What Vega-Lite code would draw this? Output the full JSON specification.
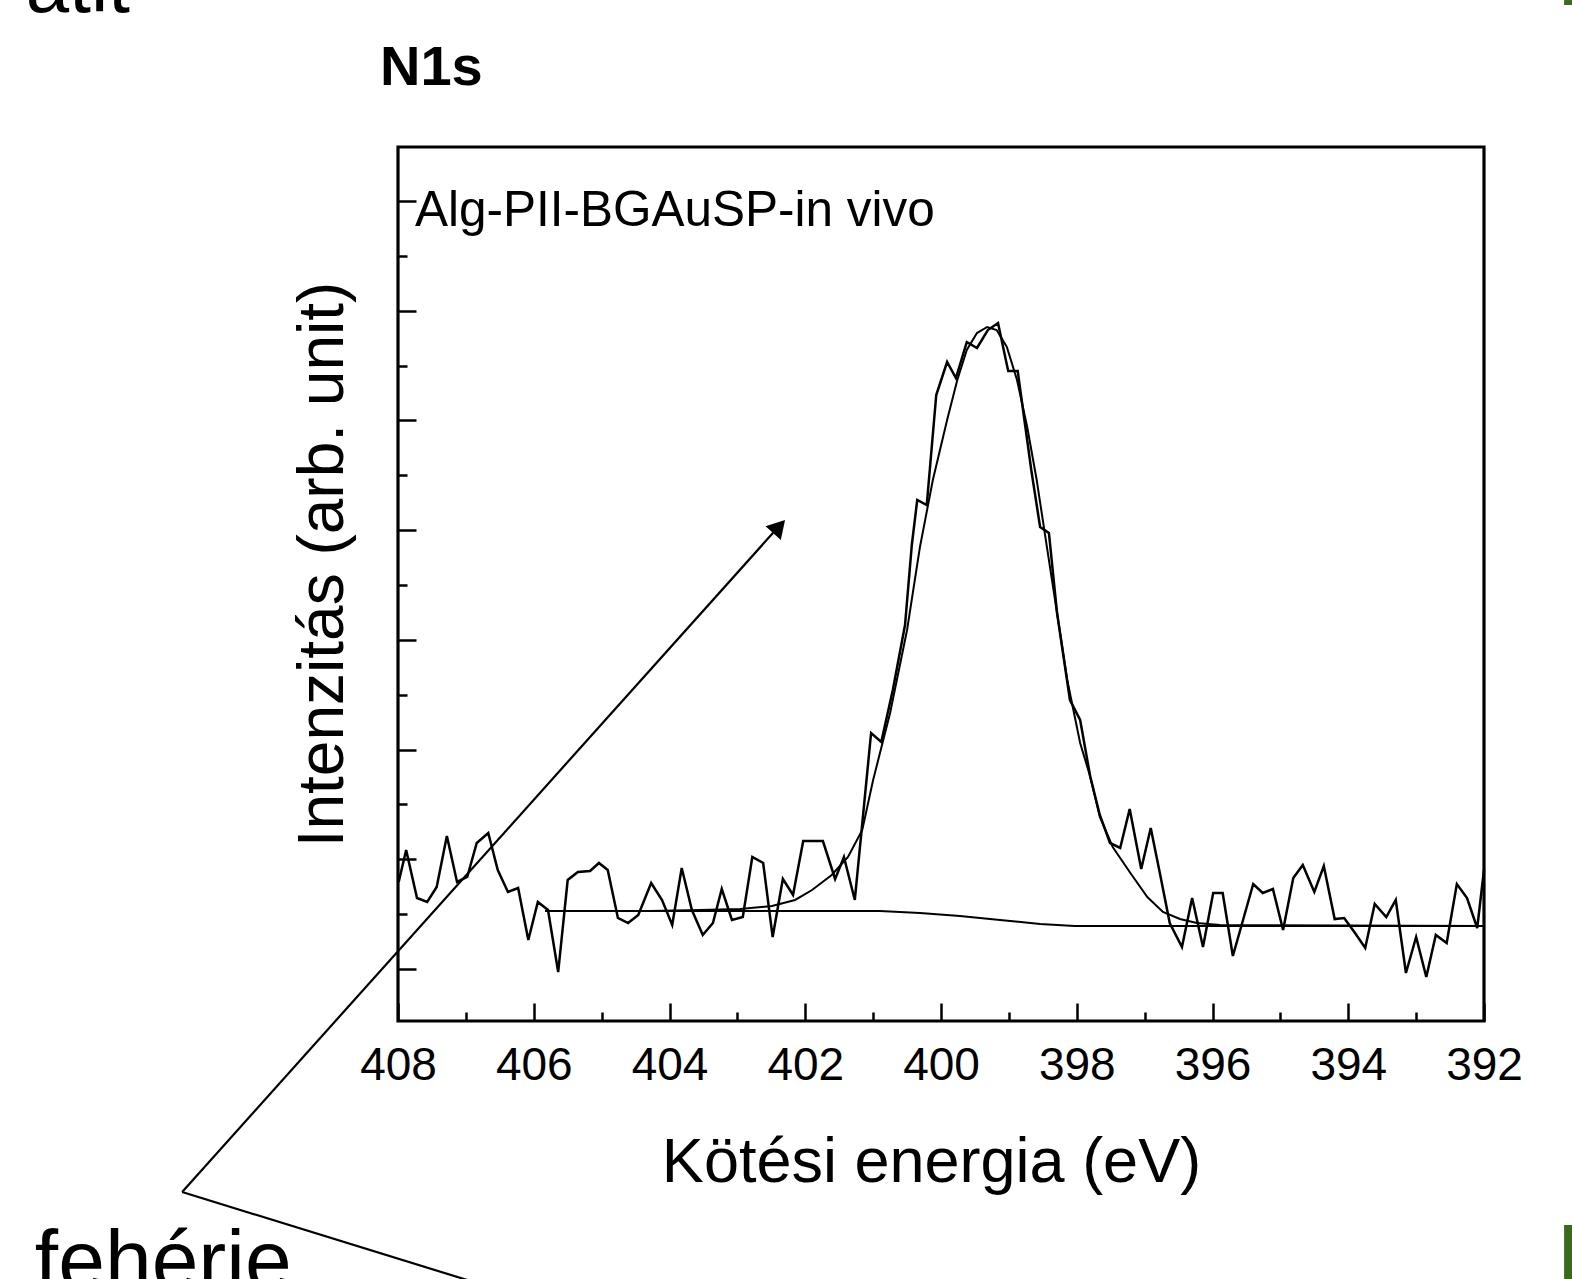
{
  "$schema": "https://vega.github.io/schema/vega-lite/v6.json",
  "width": 1086,
  "height": 874,
  "autosize": {"type": "none"},
  "padding": {"left": 398, "top": 147, "right": 88, "bottom": 258},
  "background": "white",
  "view": {"stroke": "black", "strokeWidth": 3.2},
  "config": {"font": "Liberation Sans"},
  "datasets": {
    "spectrum": [
      {"e":407.99,"i":1.586},{"e":407.88,"i":2.169},{"e":407.72,"i":1.294},{"e":407.57,"i":1.221},{"e":407.43,"i":1.495},{"e":407.28,"i":2.424},{"e":407.13,"i":1.586},{"e":406.98,"i":1.677},{"e":406.84,"i":2.297},{"e":406.67,"i":2.479},{"e":406.53,"i":1.805},{"e":406.38,"i":1.404},{"e":406.23,"i":1.476},{"e":406.08,"i":0.529},{"e":405.94,"i":1.221},{"e":405.79,"i":1.075},{"e":405.64,"i":-0.055},{"e":405.50,"i":1.622},{"e":405.35,"i":1.768},{"e":405.17,"i":1.786},{"e":405.04,"i":1.932},{"e":404.91,"i":1.805},{"e":404.76,"i":0.930},{"e":404.61,"i":0.838},{"e":404.46,"i":0.984},{"e":404.27,"i":1.568},{"e":404.11,"i":1.258},{"e":403.96,"i":0.802},{"e":403.82,"i":1.841},{"e":403.67,"i":1.075},{"e":403.51,"i":0.620},{"e":403.36,"i":0.838},{"e":403.23,"i":1.458},{"e":403.08,"i":0.893},{"e":402.92,"i":0.948},{"e":402.78,"i":2.042},{"e":402.62,"i":1.932},{"e":402.48,"i":0.583},{"e":402.33,"i":1.641},{"e":402.18,"i":1.349},{"e":402.03,"i":2.333},{"e":401.89,"i":2.333},{"e":401.74,"i":2.333},{"e":401.56,"i":1.641},{"e":401.43,"i":2.042},{"e":401.27,"i":1.258},{"e":401.03,"i":4.302},{"e":400.88,"i":4.138},{"e":400.71,"i":5.086},{"e":400.53,"i":6.270},{"e":400.43,"i":7.729},{"e":400.35,"i":8.549},{"e":400.21,"i":8.458},{"e":400.07,"i":10.463},{"e":399.91,"i":11.065},{"e":399.78,"i":10.773},{"e":399.62,"i":11.429},{"e":399.47,"i":11.320},{"e":399.31,"i":11.648},{"e":399.16,"i":11.776},{"e":399.01,"i":10.901},{"e":398.87,"i":10.901},{"e":398.67,"i":9.096},{"e":398.54,"i":8.057},{"e":398.41,"i":7.948},{"e":398.29,"i":6.489},{"e":398.10,"i":4.903},{"e":397.95,"i":4.539},{"e":397.80,"i":3.500},{"e":397.66,"i":2.807},{"e":397.51,"i":2.297},{"e":397.36,"i":2.206},{"e":397.22,"i":2.917},{"e":397.05,"i":1.823},{"e":396.91,"i":2.570},{"e":396.77,"i":1.713},{"e":396.63,"i":0.838},{"e":396.45,"i":0.401},{"e":396.30,"i":1.294},{"e":396.14,"i":0.401},{"e":395.99,"i":1.385},{"e":395.85,"i":1.385},{"e":395.70,"i":0.237},{"e":395.55,"i":0.893},{"e":395.40,"i":1.549},{"e":395.26,"i":1.385},{"e":395.11,"i":1.458},{"e":394.96,"i":0.711},{"e":394.81,"i":1.659},{"e":394.67,"i":1.896},{"e":394.50,"i":1.404},{"e":394.36,"i":1.878},{"e":394.20,"i":0.911},{"e":394.06,"i":0.930},{"e":393.90,"i":0.656},{"e":393.75,"i":0.383},{"e":393.61,"i":1.185},{"e":393.44,"i":0.948},{"e":393.30,"i":1.258},{"e":393.15,"i":-0.073},{"e":393.00,"i":0.583},{"e":392.85,"i":-0.146},{"e":392.71,"i":0.620},{"e":392.55,"i":0.474},{"e":392.40,"i":1.549},{"e":392.25,"i":1.294},{"e":392.10,"i":0.747},{"e":392.00,"i":1.805}
    ],
    "fit": [
      {"e":405.83,"i":1.057},{"e":405.02,"i":1.057},{"e":404.29,"i":1.057},{"e":403.55,"i":1.075},{"e":402.96,"i":1.094},{"e":402.49,"i":1.148},{"e":402.15,"i":1.258},{"e":401.90,"i":1.440},{"e":401.61,"i":1.714},{"e":401.37,"i":2.042},{"e":401.16,"i":2.534},{"e":401.00,"i":3.445},{"e":400.75,"i":4.667},{"e":400.50,"i":6.179},{"e":400.31,"i":7.693},{"e":400.12,"i":8.914},{"e":399.91,"i":10.008},{"e":399.76,"i":10.737},{"e":399.62,"i":11.284},{"e":399.47,"i":11.593},{"e":399.32,"i":11.703},{"e":399.18,"i":11.648},{"e":399.03,"i":11.338},{"e":398.88,"i":10.737},{"e":398.73,"i":9.880},{"e":398.59,"i":8.914},{"e":398.44,"i":7.693},{"e":398.29,"i":6.489},{"e":398.14,"i":5.268},{"e":397.95,"i":4.120},{"e":397.80,"i":3.500},{"e":397.66,"i":2.771},{"e":397.47,"i":2.224},{"e":397.22,"i":1.768},{"e":396.96,"i":1.312},{"e":396.73,"i":1.039},{"e":396.48,"i":0.911},{"e":396.23,"i":0.839},{"e":395.89,"i":0.802},{"e":392.00,"i":0.784}
    ],
    "baseline": [
      {"e":405.83,"i":1.057},{"e":400.90,"i":1.057},{"e":400.31,"i":1.020},{"e":399.72,"i":0.966},{"e":399.13,"i":0.893},{"e":398.54,"i":0.820},{"e":398.03,"i":0.784},{"e":392.00,"i":0.784}
    ],
    "pointer": [
      {"seg":"arrow","e":411.18,"i":-4.065},{"seg":"arrow","e":402.38,"i":8.08},
      {"seg":"tail","e":411.18,"i":-4.065},{"seg":"tail","e":406.79,"i":-5.742}
    ],
    "arrowhead": [{"e":402.385,"i":8.064}],
    "corner": [
      {"e":390.82,"e2":390.70,"i":17.663,"i2":17.572},
      {"e":390.82,"e2":390.70,"i":-4.666,"i2":-5.651}
    ]
  },
  "encoding": {
    "x": {
      "field": "e", "type": "quantitative",
      "scale": {"domain": [408, 392], "nice": false, "zero": false},
      "axis": {
        "values": [392,393,394,395,396,397,398,399,400,401,402,403,404,405,406,407,408],
        "labelExpr": "datum.value % 2 === 0 ? datum.label : ''",
        "tickSize": {"condition": {"test": "datum.value % 2 === 0", "value": -18}, "value": -9},
        "tickColor": "black", "tickWidth": 2.5,
        "domain": false, "grid": false,
        "labelFont": "Liberation Sans", "labelFontSize": 46, "labelColor": "black",
        "labelPadding": 40, "labelFlush": false, "labelOverlap": false,
        "title": "Kötési energia (eV)",
        "titleFont": "Liberation Sans", "titleFontSize": 63, "titleFontWeight": "normal", "titleColor": "black",
        "titleX": 533, "titleY": 160, "titleBaseline": "alphabetic", "titleAlign": "center"
      }
    },
    "y": {
      "field": "i", "type": "quantitative",
      "scale": {"domain": [-0.948, 14.984], "nice": false, "zero": false},
      "axis": {
        "values": [0,1,2,3,4,5,6,7,8,9,10,11,12,13,14],
        "labels": false,
        "tickSize": {"condition": {"test": "datum.value % 2 === 0", "value": -18}, "value": -9},
        "tickColor": "black", "tickWidth": 2.5,
        "domain": false, "grid": false,
        "title": "Intenzitás (arb. unit)",
        "titleFont": "Liberation Sans", "titleFontSize": 64, "titleFontWeight": "normal", "titleColor": "black",
        "titleX": -56, "titleY": 417, "titleBaseline": "alphabetic", "titleAlign": "center", "titleAngle": 270
      }
    }
  },
  "layer": [
    {"data": {"name": "baseline"}, "mark": {"type": "line", "color": "black", "strokeWidth": 2}},
    {"data": {"name": "fit"}, "mark": {"type": "line", "color": "black", "strokeWidth": 2}},
    {"data": {"name": "spectrum"}, "mark": {"type": "line", "color": "black", "strokeWidth": 2.5}},
    {"data": {"name": "pointer"}, "mark": {"type": "line", "color": "black", "strokeWidth": 2.2}, "encoding": {"detail": {"field": "seg"}, "order": {"value": 0}}},
    {"data": {"name": "arrowhead"}, "mark": {"type": "point", "shape": "triangle-up", "filled": true, "color": "black", "size": 420, "angle": 42, "opacity": 1}},
    {"data": {"name": "corner"}, "mark": {"type": "rect", "color": "#3b6a1c"}, "encoding": {"x2": {"field": "e2"}, "y2": {"field": "i2"}}},
    {"data": {"values": [{"e": 408.265, "i": 16.114, "label": "N1s"}]}, "mark": {"type": "text", "font": "Liberation Sans", "fontWeight": "bold", "fontSize": 56, "align": "left", "baseline": "alphabetic", "color": "black"}, "encoding": {"text": {"field": "label"}}},
    {"data": {"values": [{"e": 407.75, "i": 13.544, "label": "Alg-PII-BGAuSP-in vivo"}]}, "mark": {"type": "text", "font": "Liberation Sans", "fontSize": 49.5, "align": "left", "baseline": "alphabetic", "color": "black"}, "encoding": {"text": {"field": "label"}}},
    {"data": {"values": [{"e": 413.35, "i": -5.833, "label": "fehérje"}]}, "mark": {"type": "text", "font": "Liberation Sans", "fontSize": 84, "align": "left", "baseline": "alphabetic", "color": "black"}, "encoding": {"text": {"field": "label"}}},
    {"data": {"values": [{"e": 411.95, "i": 17.444, "label": "atit"}]}, "mark": {"type": "text", "font": "Liberation Sans", "fontSize": 78, "align": "right", "baseline": "alphabetic", "color": "black"}, "encoding": {"text": {"field": "label"}}}
  ]
}
